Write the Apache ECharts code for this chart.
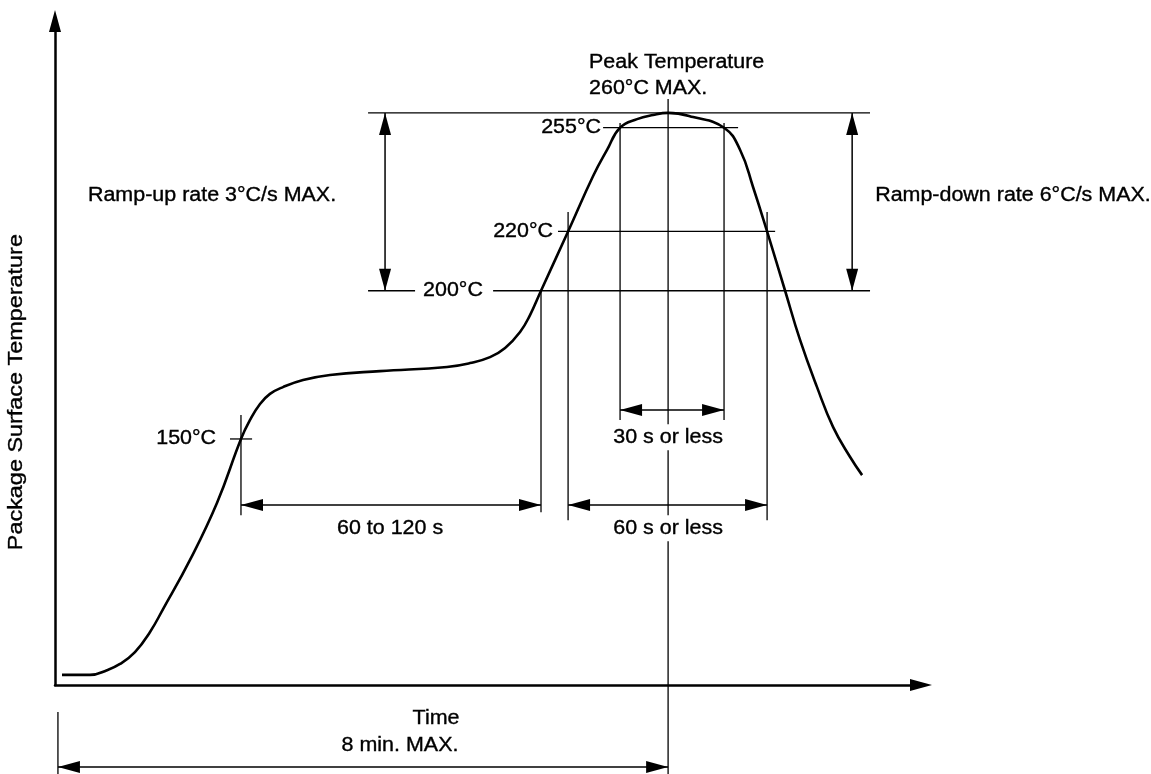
<!DOCTYPE html>
<html><head><meta charset="utf-8">
<script src="https://cdn.jsdelivr.net/npm/echarts@6/dist/echarts.min.js"></script>
<style>html,body{margin:0;padding:0;background:#fff}#c{width:1151px;height:774px}</style>
</head><body><div id="c"></div>
<script>
// ---- Reflow profile curve (schematic time in s, package surface temperature in °C) ----
const curveTime = [5.5, 27.4, 40.7, 50.9, 62.6, 74.4, 84.6, 105.7, 126.8, 145.6, 152.7, 160.5, 168.3, 178.5, 194.2, 215.3, 254.5, 306.9, 324.9, 340.6, 352.4, 364.1, 371.9, 380.5, 401.7, 421.3, 432.2, 442.4, 455.7, 468.2, 480, 499.6, 523.8, 536.4, 546.5, 557.5, 571.6, 583.3, 596.6, 609.2, 622.5, 631.9];
const curveTemp = [70.4, 70.4, 72.0, 74.1, 78.1, 84.9, 92.6, 109.2, 128.4, 150, 156.4, 161.8, 165.2, 167.5, 169.9, 171.6, 172.9, 174.3, 175.6, 177.6, 180.7, 186.1, 191.8, 200, 220, 238.7, 247.5, 255, 257.9, 259.3, 260, 258.6, 255, 247.5, 235.0, 220, 200, 183.4, 167.5, 154.0, 143.9, 137.8];

// ---- Axis ranges ----
const timeRange = [0, 678];
const tempRange = [67, 291];

// ---- Horizontal reference lines: [timeFrom, timeTo, temperature] ----
const hLines = [
  [245.1, 638.1, 260],
  [245.1, 281.9, 200],
  [343.0, 638.1, 200],
  [393.8, 563.8, 220],
  [429.1, 534.8, 255],
  [137.0, 154.3, 150]
];
// ---- Vertical reference lines: [time, tempFrom, tempTo] ----
const vLines = [
  [145.6, 158.1, 124.3],
  [380.5, 200, 125.3],
  [401.7, 226.6, 122.6],
  [442.4, 256.6, 156.4],
  [523.8, 256.6, 156.4],
  [480, 264.7, 37.0],
  [557.5, 226.6, 122.6],
  [2.3, 57.9, 37.0]
];
// ---- Double-headed dimension arrows: [t1, T1, t2, T2] ----
const dimArrows = [
  [258.4, 260, 258.4, 200],
  [624.1, 260, 624.1, 200],
  [442.4, 159.8, 523.8, 159.8],
  [145.6, 127.7, 380.5, 127.7],
  [401.7, 127.7, 557.5, 127.7],
  [2.3, 39.3, 480, 39.3]
];
// ---- Text annotations ----
const labelTexts = ['Peak Temperature', '260°C MAX.', '255°C', '220°C', '200°C', '150°C',
  'Ramp-up rate 3°C/s MAX.', 'Ramp-down rate 6°C/s MAX.', '30 s or less', '60 to 120 s',
  '60 s or less', 'Time', '8 min. MAX.'];
const labelTime = [418.1, 418.1, 427.5, 389.9, 311.6, 126.1, 25.8, 642.1, 480, 262.3, 480, 298.3, 270.1];
const labelTemp = [276.8, 268.1, 255, 220, 200, 150, 232, 232, 150.6, 119.9, 119.9, 55.5, 46.7];
const labelAlign = ['left', 'left', 'right', 'right', 'center', 'right', 'left', 'left', 'center', 'center', 'center', 'center', 'center'];
const labelBg = [false, false, false, false, false, false, false, false, true, false, true, false, false];
const yTitle = 'Package Surface Temperature';
const yTitlePos = [-29.8, 165.8];

const FONT = '"Liberation Sans", Arial, Helvetica, sans-serif';
const FS = 19.5, SX = 1.1;

function arrowHead(tip, from, L, W) {
  const dx = tip[0] - from[0], dy = tip[1] - from[1];
  const len = Math.sqrt(dx * dx + dy * dy) || 1;
  const ux = dx / len, uy = dy / len;
  const bx = tip[0] - ux * L, by = tip[1] - uy * L;
  const nx = -uy * W / 2, ny = ux * W / 2;
  return { type: 'polygon', shape: { points: [tip, [bx + nx, by + ny], [bx - nx, by - ny]] }, style: { fill: '#000' } };
}

const chart = echarts.init(document.getElementById('c'), null, { renderer: 'canvas' });
chart.setOption({
  animation: false,
  backgroundColor: '#fff',
  grid: { left: 55, top: 21, right: 230, bottom: 89, containLabel: false },
  xAxis: {
    type: 'value', min: timeRange[0], max: timeRange[1],
    axisLine: { show: true, onZero: false, symbol: ['none', 'triangle'], symbolSize: [12, 22], lineStyle: { color: '#000', width: 2.5 } },
    axisTick: { show: false }, axisLabel: { show: false }, splitLine: { show: false }
  },
  yAxis: {
    type: 'value', min: tempRange[0], max: tempRange[1],
    axisLine: { show: true, onZero: false, symbol: ['none', 'triangle'], symbolSize: [12, 22], lineStyle: { color: '#000', width: 2.5 } },
    axisTick: { show: false }, axisLabel: { show: false }, splitLine: { show: false }
  },
  series: [
    {
      type: 'custom', name: 'hLines', data: hLines, z: 2, silent: true,
      renderItem: function (p, api) {
        const a = api.coord([api.value(0), api.value(2)]);
        const b = api.coord([api.value(1), api.value(2)]);
        return { type: 'line', shape: { x1: a[0], y1: a[1], x2: b[0], y2: b[1] }, style: { stroke: '#000', lineWidth: 1.3 } };
      }
    },
    {
      type: 'custom', name: 'vLines', data: vLines, z: 2, silent: true,
      renderItem: function (p, api) {
        const a = api.coord([api.value(0), api.value(1)]);
        const b = api.coord([api.value(0), api.value(2)]);
        return { type: 'line', shape: { x1: a[0], y1: a[1], x2: b[0], y2: b[1] }, style: { stroke: '#000', lineWidth: 1.3 } };
      }
    },
    {
      type: 'custom', name: 'arrows', data: dimArrows, z: 3, silent: true,
      renderItem: function (p, api) {
        const a = api.coord([api.value(0), api.value(1)]);
        const b = api.coord([api.value(2), api.value(3)]);
        return {
          type: 'group', children: [
            { type: 'line', shape: { x1: a[0], y1: a[1], x2: b[0], y2: b[1] }, style: { stroke: '#000', lineWidth: 1.5 } },
            arrowHead(a, b, 22, 12),
            arrowHead(b, a, 22, 12)
          ]
        };
      }
    },
    {
      type: 'line', name: 'profile', z: 5, silent: true,
      data: curveTime.map((t, i) => [t, curveTemp[i]]),
      smooth: 0.45, symbol: 'none',
      lineStyle: { color: '#000', width: 2.6 }
    },
    {
      type: 'custom', name: 'labels', z: 6, silent: true,
      data: labelTime.map((t, i) => [t, labelTemp[i]]),
      renderItem: function (p, api) {
        const i = p.dataIndex;
        const c = api.coord([api.value(0), api.value(1)]);
        const st = { text: labelTexts[i], fontSize: FS, fontFamily: FONT, fill: '#000', stroke: '#000', lineWidth: 0.35, align: labelAlign[i], verticalAlign: 'middle' };
        if (labelBg[i]) { st.backgroundColor = '#fff'; st.padding = [3, 3]; }
        return { type: 'text', x: c[0], y: c[1], scaleX: SX, style: st };
      }
    },
    {
      type: 'custom', name: 'yTitle', z: 6, silent: true,
      data: [yTitlePos],
      renderItem: function (p, api) {
        const c = api.coord([api.value(0), api.value(1)]);
        return { type: 'text', x: c[0], y: c[1], rotation: Math.PI / 2, scaleX: 1.17,
          style: { text: yTitle, fontSize: 20, fontFamily: FONT, fill: '#000', stroke: '#000', lineWidth: 0.35, align: 'center', verticalAlign: 'middle' } };
      }
    }
  ]
});
</script></body></html>
